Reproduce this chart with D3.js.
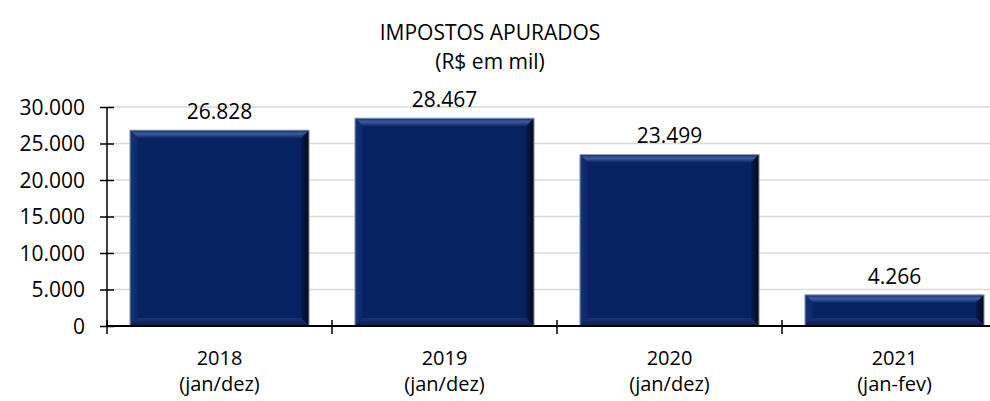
<!DOCTYPE html>
<html>
<head>
<meta charset="utf-8">
<script src="https://cdn.jsdelivr.net/npm/d3@7"></script>
<style>
  body { margin: 0; background: #fff; }
  svg { display: block; font-family: "Open Sans", sans-serif; }
</style>
</head>
<body>
<div id="chart"></div>
<script>
const years = ['2018', '2019', '2020', '2021'];
const periods = ['(jan/dez)', '(jan/dez)', '(jan/dez)', '(jan-fev)'];
const values = [26828, 28467, 23499, 4266];
const yTicks = [0, 5000, 10000, 15000, 20000, 25000, 30000];
const titleLines = ['IMPOSTOS APURADOS', '(R$ em mil)'];

const width = 990;
const height = 401;
const margin = {top: 107, left: 107, bottom: 75};
const plotRight = 1007; // plot area runs past the picture edge
const fontSize = '21px';
const bevel = 8;

const fmt = d3.formatLocale({decimal: ',', thousands: '.', grouping: [3], currency: ['R$', '']}).format(',d');

const svg = d3.select('#chart')
  .append('svg')
  .attr('width', width)
  .attr('height', height);

const xCat = d3.scaleBand()
  .domain(years)
  .range([margin.left, plotRight]);

const xBar = d3.scaleBand()
  .domain(years)
  .range([margin.left, plotRight])
  .paddingInner(0.204)
  .paddingOuter(0.102);

const yScale = d3.scaleLinear()
  .domain([0, 30000])
  .range([height - margin.bottom, margin.top]);

// gradients for the bevel
const defs = svg.append('defs');
const gTop = defs.append('linearGradient').attr('id', 'gTop').attr('x1', 0).attr('y1', 0).attr('x2', 0).attr('y2', 1);
gTop.append('stop').attr('offset', '0%').attr('stop-color', '#102c6e');
gTop.append('stop').attr('offset', '45%').attr('stop-color', '#3d5c9c');
gTop.append('stop').attr('offset', '100%').attr('stop-color', '#0b2766');
const gRight = defs.append('linearGradient').attr('id', 'gRight').attr('x1', 0).attr('y1', 0).attr('x2', 1).attr('y2', 0);
gRight.append('stop').attr('offset', '0%').attr('stop-color', '#041a4d');
gRight.append('stop').attr('offset', '100%').attr('stop-color', '#00081c');
const gBottom = defs.append('linearGradient').attr('id', 'gBottom').attr('x1', 0).attr('y1', 0).attr('x2', 0).attr('y2', 1);
gBottom.append('stop').attr('offset', '0%').attr('stop-color', '#1a3474');
gBottom.append('stop').attr('offset', '100%').attr('stop-color', '#061a4c');
const gLeft = defs.append('linearGradient').attr('id', 'gLeft').attr('x1', 0).attr('y1', 0).attr('x2', 1).attr('y2', 0);
gLeft.append('stop').attr('offset', '0%').attr('stop-color', '#17347a');
gLeft.append('stop').attr('offset', '100%').attr('stop-color', '#0a2768');

// gridlines
svg.append('g')
  .selectAll('line')
  .data(yTicks.filter(d => d > 0))
  .join('line')
  .attr('x1', margin.left)
  .attr('x2', width)
  .attr('y1', d => yScale(d))
  .attr('y2', d => yScale(d))
  .attr('stroke', '#d9d9d9')
  .attr('stroke-width', 1.3);

// bars
const bars = svg.append('g')
  .selectAll('g')
  .data(years.map((y, i) => ({year: y, value: values[i]})))
  .join('g');

const pts = arr => arr.map(p => p.join(',')).join(' ');

bars.each(function(d) {
  const g = d3.select(this);
  const x0 = xBar(d.year), x1 = x0 + xBar.bandwidth();
  const y0 = yScale(d.value), y1 = yScale(0);
  const b = Math.min(bevel, (y1 - y0) / 3);

  g.append('rect')
    .attr('x', x0).attr('y', y0)
    .attr('width', x1 - x0).attr('height', y1 - y0)
    .attr('fill', '#062260');
  g.append('polygon')
    .attr('points', pts([[x0, y0], [x1, y0], [x1 - b, y0 + b], [x0 + b, y0 + b]]))
    .attr('fill', 'url(#gTop)');
  g.append('polygon')
    .attr('points', pts([[x0, y0], [x0 + b, y0 + b], [x0 + b, y1 - b], [x0, y1]]))
    .attr('fill', 'url(#gLeft)');
  g.append('polygon')
    .attr('points', pts([[x1, y0], [x1, y1], [x1 - b, y1 - b], [x1 - b, y0 + b]]))
    .attr('fill', 'url(#gRight)');
  g.append('polygon')
    .attr('points', pts([[x0, y1], [x0 + b, y1 - b], [x1 - b, y1 - b], [x1, y1]]))
    .attr('fill', 'url(#gBottom)');
  g.append('rect')
    .attr('x', x0).attr('y', y0)
    .attr('width', x1 - x0).attr('height', y1 - y0)
    .attr('fill', 'none')
    .attr('stroke', '#9aa3b5')
    .attr('stroke-width', 1);
});

// data labels
svg.append('g')
  .selectAll('text')
  .data(values)
  .join('text')
  .attr('x', (d, i) => xBar(years[i]) + xBar.bandwidth() / 2)
  .attr('y', d => yScale(d) - 11)
  .attr('text-anchor', 'middle')
  .style('font-size', fontSize)
  .style('fill', '#000')
  .text(d => fmt(d));

// y-axis
const yAxis = svg.append('g')
  .attr('transform', `translate(${margin.left}, 0)`)
  .call(d3.axisLeft(yScale).tickValues(yTicks).tickSize(7).tickFormat(fmt));
yAxis.select('.domain').remove();
yAxis.selectAll('.tick line').attr('x2', 7).attr('x1', -7).attr('stroke', '#000').attr('stroke-width', 1.5);
yAxis.selectAll('.tick text')
  .attr('x', -22)
  .attr('dy', '0.35em')
  .style('font-size', fontSize)
  .style('fill', '#000')
  .style('font-family', '"Open Sans", sans-serif');
yAxis.append('line')
  .attr('y1', yScale(30000))
  .attr('y2', yScale(0))
  .attr('stroke', '#000')
  .attr('stroke-width', 1.5);

// x-axis
const xAxis = svg.append('g')
  .attr('transform', `translate(0, ${yScale(0)})`);
xAxis.append('line')
  .attr('x1', margin.left)
  .attr('x2', width)
  .attr('stroke', '#000')
  .attr('stroke-width', 2);
xAxis.selectAll('.cat-tick')
  .data(years)
  .join('line')
  .attr('class', 'cat-tick')
  .attr('x1', d => xCat(d))
  .attr('x2', d => xCat(d))
  .attr('y1', -6)
  .attr('y2', 8)
  .attr('stroke', '#000')
  .attr('stroke-width', 1.5);

// category labels, two lines each
xAxis.selectAll('.cat-year')
  .data(years)
  .join('text')
  .attr('class', 'cat-year')
  .attr('x', d => xCat(d) + xCat.bandwidth() / 2)
  .attr('y', 39)
  .attr('text-anchor', 'middle')
  .style('font-size', '20px')
  .style('fill', '#000')
  .text(d => d);
xAxis.selectAll('.cat-period')
  .data(years)
  .join('text')
  .attr('class', 'cat-period')
  .attr('x', d => xCat(d) + xCat.bandwidth() / 2)
  .attr('y', 65)
  .attr('text-anchor', 'middle')
  .style('font-size', '20px')
  .style('fill', '#000')
  .text((d, i) => periods[i]);

// title
svg.selectAll('.title')
  .data(titleLines)
  .join('text')
  .attr('class', 'title')
  .attr('x', 490)
  .attr('y', (d, i) => 40 + i * 29)
  .attr('text-anchor', 'middle')
  .style('font-size', '21px')
  .style('fill', '#000')
  .text(d => d);
</script>
</body>
</html>
